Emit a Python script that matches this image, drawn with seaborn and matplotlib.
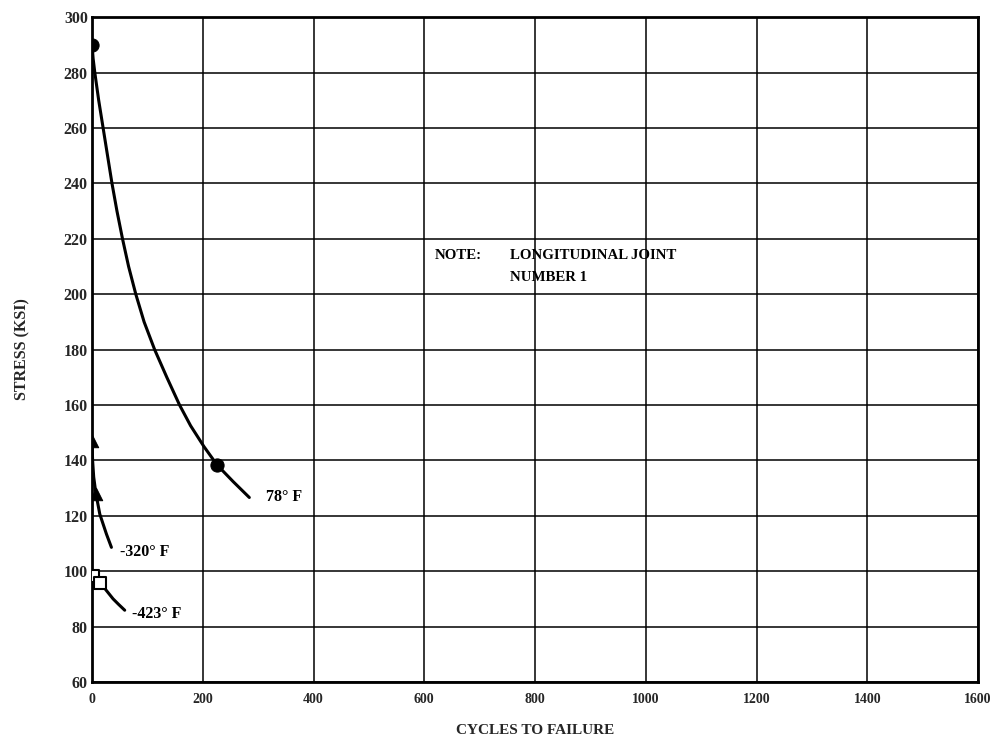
import matplotlib
matplotlib.use("Agg")
import matplotlib.pyplot as plt
import seaborn as sns
import pandas as pd

# Test points (cycles, stress ksi)
pts_78_x = [0, 226]
pts_78_y = [290, 138.3]
pts_320_x = [0, 7]
pts_320_y = [147, 128]
pts_423_x = [2, 15]
pts_423_y = [98.4, 95.8]

# Hand-drawn fatigue curves
curve_78_x = [0, 2, 5, 12, 20, 28, 36, 45, 55, 66, 79, 94, 113, 135, 158, 178, 202, 226, 255, 284]
curve_78_y = [290, 285, 280, 270, 260, 250, 240, 230, 220, 210, 200, 190, 180, 170, 160, 152.5, 145, 138.3, 132.3, 126.6]
curve_320_x = [0, 1, 3, 7, 14, 20, 26, 35]
curve_320_y = [147, 140, 134, 128, 120.6, 117, 113.4, 108.6]
curve_423_x = [0, 2, 8, 15, 26, 38, 48, 59]
curve_423_y = [99, 98.4, 97, 95.8, 93, 90, 88, 85.9]

x_ticks = [0, 200, 400, 600, 800, 1000, 1200, 1400, 1600]
y_ticks = [60, 80, 100, 120, 140, 160, 180, 200, 220, 240, 260, 280, 300]

sns.set_theme(style="white")
plt.rcParams['font.family'] = ['Liberation Serif', 'DejaVu Serif']

fig = plt.figure(figsize=(9.95, 7.42), dpi=100)
ax = fig.add_axes([0.0925, 0.0809, 0.8905, 0.896])

for v in x_ticks:
    ax.axvline(v, color='black', lw=1.1, zorder=1)
for v in y_ticks:
    ax.axhline(v, color='black', lw=1.1, zorder=1)

for cx, cy in [(curve_78_x, curve_78_y), (curve_320_x, curve_320_y), (curve_423_x, curve_423_y)]:
    df = pd.DataFrame({"x": cx, "y": cy})
    sns.lineplot(data=df, x="x", y="y", sort=False, estimator=None, color='black', lw=2.2, ax=ax, zorder=3)

sns.scatterplot(x=pts_78_x, y=pts_78_y, marker='o', s=90, color='black', edgecolor='black', ax=ax, zorder=4)
sns.scatterplot(x=pts_320_x, y=pts_320_y, marker='^', s=80, color='black', edgecolor='black', ax=ax, zorder=4)
sns.scatterplot(x=pts_423_x, y=pts_423_y, marker='s', s=80, facecolor='white', edgecolor='black', linewidth=1.5, ax=ax, zorder=4)

tfont = dict(fontsize=11.5, fontweight='bold', color='black')
ax.text(314, 126.6, "78° F", va='center', ha='left', **tfont)
ax.text(50, 106.8, "-320° F", va='center', ha='left', **tfont)
ax.text(72, 84.6, "-423° F", va='center', ha='left', **tfont)
nfont = dict(fontsize=10.7, fontweight='bold', color='black')
ax.text(618, 213.8, "NOTE:", va='center', ha='left', **nfont)
ax.text(754, 213.8, "LONGITUDINAL JOINT", va='center', ha='left', **nfont)
ax.text(754, 206, "NUMBER 1", va='center', ha='left', **nfont)

ax.set_xlim(0, 1600)
ax.set_ylim(60, 300)
ax.set_xticks(x_ticks)
ax.set_yticks(y_ticks)
ax.set_xticklabels([str(v) for v in x_ticks], fontsize=10, fontweight='bold')
ax.set_yticklabels([str(v) for v in y_ticks], fontsize=11.5, fontweight='bold')
ax.tick_params(axis='x', length=0, pad=8)
ax.tick_params(axis='y', length=0, pad=3)
ax.set_xlabel("CYCLES TO FAILURE", fontsize=11, fontweight='bold', labelpad=13)
ax.set_ylabel("STRESS (KSI)", fontsize=11.5, fontweight='bold', labelpad=24)
for s in ax.spines.values():
    s.set_visible(True)
    s.set_color('black')
    s.set_linewidth(2.0)
ax.grid(False)

fig.savefig("out.png", dpi=100, facecolor='white')
